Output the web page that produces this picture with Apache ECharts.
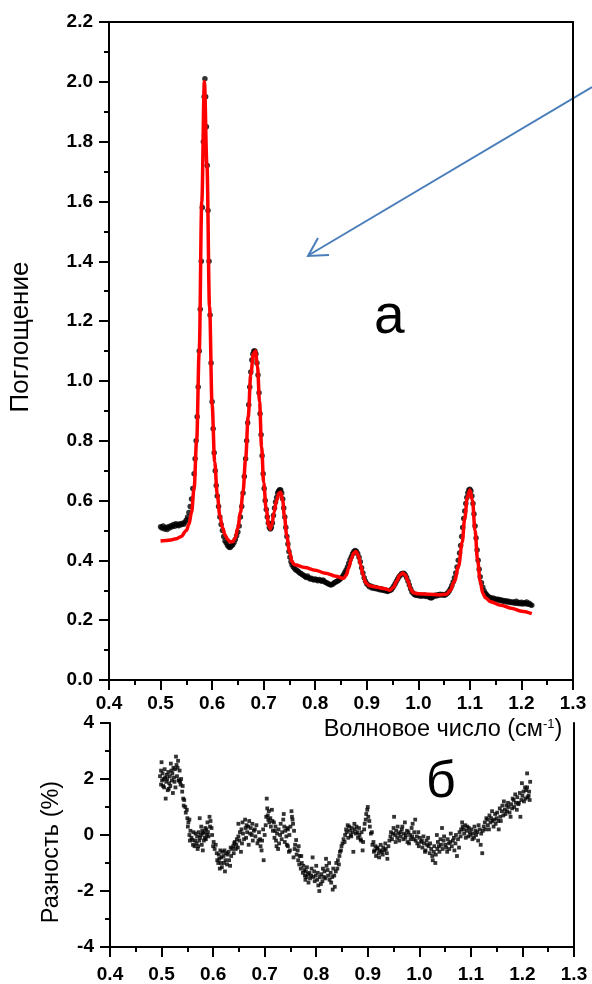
<!DOCTYPE html>
<html>
<head>
<meta charset="utf-8">
<script src="https://cdn.jsdelivr.net/npm/echarts@6/dist/echarts.min.js"></script>
<style>
html,body{margin:0;padding:0;background:#fff;}
#chart{width:592px;height:984px;}
</style>
</head>
<body>
<div id="chart"></div>
<script>
// Measured absorbance (black dots): [wavenumber, absorbance]
const absorbance = [
[0.500,0.512],[0.5025,0.508],[0.505,0.515],[0.5075,0.505],[0.510,0.510],[0.5125,0.503],[0.515,0.512],[0.5175,0.508],
[0.520,0.516],[0.5225,0.512],[0.525,0.520],[0.5275,0.514],[0.530,0.522],[0.5325,0.518],[0.535,0.516],[0.5375,0.522],
[0.540,0.519],[0.5425,0.524],[0.545,0.521],[0.5475,0.528],[0.550,0.535],[0.5525,0.545],[0.555,0.560],[0.5575,0.58],
[0.560,0.605],[0.5625,0.64],[0.565,0.69],[0.567,0.74],[0.569,0.80],[0.571,0.88],[0.573,0.98],[0.575,1.10],
[0.577,1.24],[0.579,1.40],[0.581,1.58],[0.583,1.80],[0.5845,1.95],[0.586,2.01],[0.5875,1.95],[0.589,1.85],
[0.5905,1.72],[0.592,1.57],[0.594,1.40],[0.596,1.22],[0.598,1.06],[0.600,0.93],[0.602,0.84],[0.604,0.76],
[0.606,0.70],[0.608,0.65],[0.610,0.615],[0.6125,0.58],[0.615,0.545],[0.6175,0.52],[0.620,0.50],[0.6225,0.48],
[0.625,0.465],[0.6275,0.458],[0.630,0.450],[0.6325,0.445],[0.635,0.443],[0.6375,0.448],[0.640,0.452],[0.6425,0.460],
[0.645,0.470],[0.6475,0.482],[0.650,0.495],[0.6525,0.515],[0.655,0.545],[0.6575,0.58],[0.660,0.625],[0.6625,0.68],
[0.665,0.74],[0.667,0.80],[0.669,0.86],[0.671,0.92],[0.673,0.98],[0.675,1.03],[0.677,1.07],[0.679,1.09],
[0.681,1.10],[0.683,1.10],[0.685,1.09],[0.687,1.06],[0.689,1.02],[0.691,0.96],[0.693,0.89],[0.695,0.82],
[0.697,0.75],[0.699,0.69],[0.701,0.64],[0.703,0.60],[0.705,0.57],[0.707,0.545],[0.709,0.525],[0.711,0.51],
[0.713,0.505],[0.715,0.51],[0.717,0.525],[0.719,0.55],[0.721,0.575],[0.723,0.595],[0.725,0.61],[0.727,0.625],
[0.729,0.632],[0.731,0.636],[0.733,0.635],[0.735,0.625],[0.737,0.605],[0.739,0.575],[0.741,0.545],[0.743,0.51],
[0.745,0.48],[0.747,0.455],[0.749,0.43],[0.751,0.41],[0.753,0.395],[0.755,0.385],[0.7575,0.378],[0.760,0.373],
[0.7625,0.368],[0.765,0.366],[0.7675,0.362],[0.770,0.358],[0.7725,0.356],[0.775,0.352],[0.7775,0.350],[0.780,0.346],
[0.7825,0.343],[0.785,0.348],[0.7875,0.342],[0.790,0.338],[0.7925,0.340],[0.795,0.337],[0.7975,0.334],[0.800,0.338],
[0.8025,0.335],[0.805,0.332],[0.8075,0.336],[0.810,0.333],[0.8125,0.330],[0.815,0.334],[0.8175,0.330],[0.820,0.326],
[0.8225,0.325],[0.825,0.322],[0.8275,0.320],[0.830,0.318],[0.8325,0.319],[0.835,0.322],[0.8375,0.326],[0.840,0.328],
[0.8425,0.330],[0.845,0.333],[0.8475,0.336],[0.850,0.340],[0.8525,0.345],[0.855,0.352],[0.8575,0.360],[0.860,0.368],
[0.8625,0.378],[0.865,0.390],[0.8675,0.402],[0.870,0.412],[0.8725,0.422],[0.875,0.430],[0.8775,0.433],[0.880,0.430],
[0.8825,0.422],[0.885,0.410],[0.8875,0.395],[0.890,0.375],[0.8925,0.358],[0.895,0.342],[0.8975,0.330],[0.900,0.322],
[0.9025,0.318],[0.905,0.312],[0.9075,0.314],[0.910,0.308],[0.9125,0.311],[0.915,0.306],[0.9175,0.309],[0.920,0.304],
[0.9225,0.306],[0.925,0.302],[0.9275,0.305],[0.930,0.300],[0.9325,0.303],[0.935,0.298],[0.9375,0.300],[0.940,0.296],
[0.9425,0.298],[0.945,0.300],[0.9475,0.302],[0.950,0.308],[0.9525,0.314],[0.955,0.322],[0.9575,0.330],[0.960,0.338],
[0.9625,0.345],[0.965,0.350],[0.9675,0.355],[0.970,0.357],[0.9725,0.356],[0.975,0.350],[0.9775,0.342],[0.980,0.330],
[0.9825,0.318],[0.985,0.305],[0.9875,0.295],[0.990,0.290],[0.9925,0.286],[0.995,0.283],[0.9975,0.285],[1.000,0.282],
[1.0025,0.284],[1.005,0.280],[1.0075,0.283],[1.010,0.281],[1.0125,0.284],[1.015,0.279],[1.0175,0.282],[1.020,0.278],
[1.0225,0.276],[1.025,0.274],[1.0275,0.277],[1.030,0.280],[1.0325,0.283],[1.035,0.281],[1.0375,0.285],[1.040,0.283],
[1.0425,0.287],[1.045,0.284],[1.0475,0.286],[1.050,0.283],[1.0525,0.285],[1.055,0.288],[1.0575,0.292],[1.060,0.298],
[1.0625,0.306],[1.065,0.316],[1.0675,0.328],[1.070,0.342],[1.0725,0.358],[1.075,0.378],[1.0775,0.40],[1.080,0.425],
[1.082,0.45],[1.084,0.48],[1.086,0.51],[1.088,0.54],[1.090,0.565],[1.092,0.59],[1.094,0.61],[1.096,0.625],
[1.098,0.635],[1.100,0.638],[1.102,0.632],[1.104,0.615],[1.106,0.59],[1.108,0.555],[1.110,0.515],[1.112,0.475],
[1.114,0.435],[1.116,0.40],[1.118,0.37],[1.120,0.345],[1.1225,0.325],[1.125,0.31],[1.1275,0.298],[1.130,0.290],
[1.1325,0.285],[1.135,0.280],[1.1375,0.277],[1.140,0.275],[1.1425,0.272],[1.145,0.274],[1.1475,0.270],[1.150,0.271],
[1.1525,0.268],[1.155,0.270],[1.1575,0.266],[1.160,0.268],[1.1625,0.264],[1.165,0.266],[1.1675,0.262],[1.170,0.265],
[1.1725,0.261],[1.175,0.263],[1.1775,0.259],[1.180,0.262],[1.1825,0.258],[1.185,0.261],[1.1875,0.257],[1.190,0.263],
[1.1925,0.256],[1.195,0.259],[1.1975,0.255],[1.200,0.260],[1.2025,0.254],[1.205,0.258],[1.2075,0.255],[1.210,0.261],
[1.2125,0.253],[1.215,0.257],[1.2175,0.252],[1.220,0.250]
];

// Fitted curve (red): [wavenumber, absorbance]
const fitCurve = [
[0.500,0.465],[0.510,0.466],[0.520,0.468],[0.530,0.472],[0.540,0.480],[0.550,0.500],[0.555,0.52],[0.560,0.56],
[0.565,0.64],[0.570,0.80],[0.575,1.10],[0.580,1.60],[0.585,2.00],[0.590,1.72],[0.595,1.25],[0.600,0.92],
[0.605,0.73],[0.610,0.62],[0.615,0.55],[0.620,0.51],[0.625,0.485],[0.630,0.47],[0.635,0.462],[0.640,0.462],
[0.645,0.475],[0.650,0.51],[0.655,0.56],[0.660,0.63],[0.665,0.74],[0.670,0.88],[0.675,1.02],[0.680,1.09],
[0.684,1.10],[0.688,1.05],[0.692,0.93],[0.696,0.78],[0.700,0.66],[0.705,0.57],[0.710,0.515],[0.713,0.505],
[0.716,0.52],[0.720,0.56],[0.725,0.60],[0.730,0.625],[0.733,0.628],[0.737,0.60],[0.740,0.55],[0.745,0.48],
[0.750,0.43],[0.755,0.395],[0.760,0.385],[0.780,0.376],[0.800,0.367],[0.820,0.357],[0.840,0.347],[0.855,0.340],
[0.860,0.35],[0.865,0.375],[0.870,0.405],[0.875,0.425],[0.879,0.43],[0.884,0.415],[0.888,0.385],[0.893,0.35],
[0.898,0.325],[0.905,0.315],[0.920,0.31],[0.935,0.305],[0.945,0.30],[0.952,0.31],[0.958,0.33],[0.964,0.35],
[0.970,0.358],[0.975,0.35],[0.980,0.33],[0.985,0.305],[0.990,0.292],[1.000,0.288],[1.020,0.287],[1.040,0.285],
[1.055,0.287],[1.062,0.30],[1.070,0.33],[1.078,0.38],[1.085,0.46],[1.090,0.54],[1.095,0.61],[1.100,0.635],
[1.105,0.60],[1.110,0.50],[1.115,0.40],[1.120,0.33],[1.125,0.29],[1.130,0.275],[1.140,0.262],[1.160,0.250],
[1.180,0.240],[1.200,0.230],[1.220,0.222]
];

// Residuals (%): [wavenumber, difference]
const residuals = [
[0.497,2.1],[0.499,2.3],[0.499,1.8],[0.500,2.6],[0.501,1.95],[0.502,2.2],[0.503,1.75],[0.504,2.0],[0.505,1.7],[0.506,2.35],
[0.507,2.05],[0.508,1.3],[0.509,1.9],[0.510,2.15],[0.511,2.0],[0.512,1.6],[0.513,2.25],[0.514,1.65],[0.515,1.85],[0.516,2.1],
[0.517,1.75],[0.518,2.55],[0.519,2.3],[0.520,1.95],[0.521,2.2],[0.522,1.5],[0.523,2.4],[0.524,2.05],[0.525,1.9],[0.526,2.35],
[0.527,1.7],[0.528,2.8],[0.529,2.5],[0.530,2.1],[0.531,2.4],[0.532,2.65],[0.533,1.95],[0.534,1.95],[0.535,2.3],[0.536,1.9],
[0.537,1.8],[0.538,2.0],[0.540,1.55],[0.541,1.75],[0.542,1.3],[0.543,1.05],[0.544,1.25],[0.546,1.0],[0.547,0.8],[0.549,0.9],
[0.550,0.6],[0.551,0.3],[0.552,0.45],[0.554,0.55],[0.554,0.0],[0.555,-0.2],[0.556,0.15],[0.558,-0.1],[0.560,-0.18],[0.561,-0.35],
[0.562,0.1],[0.564,-0.4],[0.565,-0.2],[0.566,0.05],[0.568,-0.3],[0.569,-0.05],[0.570,-0.5],[0.571,-0.4],[0.572,0.1],[0.573,-0.2],
[0.574,0.6],[0.575,-0.1],[0.576,0.0],[0.577,0.3],[0.578,-0.35],[0.579,0.15],[0.580,0.05],[0.580,-0.55],[0.582,-0.2],[0.583,0.1],
[0.584,-0.1],[0.585,0.25],[0.586,-0.15],[0.587,0.2],[0.588,0.0],[0.589,0.45],[0.590,0.1],[0.591,-0.05],[0.593,0.65],[0.594,0.3],
[0.595,0.5],[0.597,0.25],[0.598,0.0],[0.600,-0.4],[0.601,-0.25],[0.603,-0.5],[0.605,-0.35],[0.607,-0.65],[0.608,-0.9],[0.610,-1.0],
[0.611,-0.7],[0.612,-0.85],[0.613,-1.2],[0.614,-0.55],[0.615,-1.0],[0.616,-0.8],[0.617,-1.15],[0.618,-0.6],[0.620,-0.75],[0.621,-1.0],
[0.622,-0.55],[0.623,-1.3],[0.624,-0.9],[0.625,-0.65],[0.627,-1.05],[0.628,-0.7],[0.630,-0.6],[0.631,-0.9],[0.633,-1.1],[0.634,-0.45],
[0.635,-0.75],[0.637,-0.5],[0.639,-0.4],[0.640,-0.65],[0.641,-0.3],[0.642,-0.25],[0.644,-0.5],[0.645,-0.35],[0.646,-0.15],[0.648,-0.45],
[0.649,-0.05],[0.649,0.4],[0.651,-0.2],[0.652,0.1],[0.654,-0.6],[0.655,0.2],[0.656,-0.3],[0.657,0.45],[0.658,0.05],[0.660,-0.15],
[0.662,0.55],[0.663,0.25],[0.664,-0.1],[0.665,0.35],[0.666,0.1],[0.668,0.3],[0.669,-0.35],[0.670,0.5],[0.672,0.05],[0.673,0.25],
[0.675,0.0],[0.676,0.4],[0.677,-0.2],[0.679,0.15],[0.681,0.2],[0.682,-0.05],[0.684,0.35],[0.686,-0.3],[0.688,-0.2],[0.689,0.1],
[0.691,-0.15],[0.692,-0.4],[0.694,-0.55],[0.695,-0.2],[0.697,0.2],[0.698,-0.9],[0.700,0.0],[0.702,0.35],[0.703,0.65],[0.704,1.3],
[0.705,0.95],[0.706,0.7],[0.707,0.55],[0.708,0.85],[0.709,0.45],[0.711,0.6],[0.712,0.3],[0.714,0.9],[0.715,0.5],[0.716,0.15],
[0.718,0.45],[0.719,-0.1],[0.720,0.15],[0.721,0.3],[0.722,-0.2],[0.723,-0.4],[0.724,0.05],[0.726,-0.5],[0.727,0.2],[0.728,-0.3],
[0.730,0.0],[0.731,0.4],[0.733,-0.15],[0.734,0.1],[0.736,0.55],[0.737,0.75],[0.738,0.3],[0.739,-0.25],[0.740,0.15],[0.742,-0.05],
[0.743,-0.35],[0.744,0.25],[0.745,0.2],[0.745,-0.4],[0.747,-0.6],[0.748,0.0],[0.749,-0.55],[0.750,0.3],[0.752,0.85],[0.753,0.65],
[0.754,0.55],[0.755,0.4],[0.756,-0.8],[0.757,0.15],[0.758,-0.5],[0.759,-0.35],[0.761,-0.18],[0.762,-0.7],[0.764,-0.55],[0.765,-0.9],
[0.766,-0.4],[0.767,-1.05],[0.768,-0.75],[0.770,-1.2],[0.771,-0.75],[0.772,-1.0],[0.774,-1.35],[0.775,-1.1],[0.777,-1.25],[0.778,-1.45],
[0.779,-1.6],[0.780,-1.3],[0.781,-1.5],[0.782,-1.15],[0.784,-1.4],[0.785,-1.7],[0.787,-1.35],[0.788,-1.55],[0.790,-1.45],[0.791,-1.2],
[0.793,-0.8],[0.794,-1.5],[0.796,-1.3],[0.797,-1.65],[0.799,-1.45],[0.800,-1.1],[0.802,-1.6],[0.803,-1.35],[0.804,-1.8],[0.806,-2.0],
[0.807,-1.5],[0.809,-1.75],[0.810,-1.4],[0.812,-1.65],[0.813,-1.2],[0.815,-1.5],[0.816,-1.3],[0.818,-1.55],[0.819,-0.85],[0.820,-1.1],
[0.822,-1.25],[0.823,-1.45],[0.825,-1.0],[0.826,-1.6],[0.828,-1.35],[0.829,-1.7],[0.831,-1.5],[0.832,-1.95],[0.833,-1.2],[0.835,-1.45],
[0.836,-1.85],[0.838,-1.3],[0.839,-1.0],[0.841,-1.2],[0.842,-0.9],[0.844,-1.05],[0.845,-0.75],[0.846,-0.6],[0.848,-0.55],[0.849,-0.4],
[0.851,-0.3],[0.853,-0.15],[0.855,-0.25],[0.856,0.0],[0.858,0.2],[0.859,0.1],[0.861,0.35],[0.862,-0.1],[0.864,0.3],[0.865,0.15],
[0.867,0.0],[0.868,-0.05],[0.869,0.25],[0.871,0.1],[0.872,-0.6],[0.874,0.4],[0.875,0.2],[0.877,0.05],[0.878,0.3],[0.880,0.1],
[0.881,-0.1],[0.883,0.25],[0.884,0.0],[0.886,-0.15],[0.887,-0.2],[0.888,0.1],[0.890,-0.55],[0.891,-0.25],[0.893,0.2],[0.894,0.4],
[0.896,0.55],[0.897,0.75],[0.899,0.9],[0.900,1.0],[0.901,0.65],[0.903,0.5],[0.904,0.3],[0.906,0.05],[0.908,0.1],[0.909,-0.35],
[0.911,-0.25],[0.912,-0.6],[0.913,-0.55],[0.915,-0.4],[0.916,-0.75],[0.918,-0.5],[0.919,-0.45],[0.921,-0.65],[0.922,-0.8],[0.924,-0.55],
[0.925,-0.35],[0.927,-0.6],[0.929,-0.7],[0.930,-0.45],[0.932,-0.55],[0.934,-0.3],[0.935,-0.5],[0.937,-0.65],[0.938,-0.85],[0.940,-0.4],
[0.942,-0.2],[0.944,-0.05],[0.945,0.1],[0.947,-0.15],[0.949,0.05],[0.950,0.25],[0.951,0.65],[0.953,0.0],[0.954,-0.25],[0.955,0.15],
[0.957,-0.1],[0.958,0.3],[0.960,0.05],[0.961,-0.2],[0.963,0.1],[0.964,-0.05],[0.966,0.2],[0.967,0.3],[0.969,-0.15],[0.970,0.05],
[0.972,0.45],[0.973,-0.1],[0.974,0.0],[0.976,0.15],[0.977,-0.25],[0.979,0.1],[0.980,-0.3],[0.982,0.0],[0.983,-0.15],[0.985,0.25],
[0.986,-0.05],[0.987,0.4],[0.989,-0.15],[0.990,0.1],[0.992,0.55],[0.993,-0.2],[0.995,-0.05],[0.996,-0.3],[0.998,0.1],[0.999,-0.4],
[1.001,-0.1],[1.003,-0.25],[1.005,-0.2],[1.006,-0.45],[1.008,-0.05],[1.009,-0.3],[1.011,-0.6],[1.012,-0.55],[1.014,-0.2],[1.015,-0.35],
[1.017,-0.1],[1.018,-0.4],[1.020,-0.65],[1.021,-0.3],[1.023,-0.5],[1.025,-0.75],[1.026,-0.9],[1.028,-0.6],[1.029,-0.4],[1.031,-1.0],
[1.032,-0.7],[1.034,0.0],[1.035,-0.5],[1.036,-0.25],[1.038,-0.4],[1.039,-0.6],[1.041,-0.15],[1.042,-0.35],[1.044,0.25],[1.045,-0.5],
[1.047,-0.2],[1.048,-0.05],[1.050,-0.35],[1.052,-0.45],[1.054,-0.6],[1.055,-0.15],[1.057,-0.3],[1.058,-0.5],[1.060,-0.25],[1.061,0.05],
[1.063,-0.4],[1.065,-0.2],[1.067,-0.1],[1.068,-0.55],[1.070,-0.3],[1.071,0.0],[1.073,-0.75],[1.075,-0.15],[1.077,-0.45],[1.078,0.1],
[1.080,-0.05],[1.081,0.2],[1.083,0.45],[1.084,0.3],[1.086,0.2],[1.087,0.05],[1.089,0.35],[1.090,-0.1],[1.092,0.15],[1.093,0.3],
[1.095,-0.05],[1.096,0.25],[1.098,0.1],[1.099,0.0],[1.101,0.2],[1.103,-0.15],[1.104,0.05],[1.106,-0.1],[1.107,0.3],[1.109,0.15],
[1.110,0.0],[1.112,0.1],[1.114,-0.2],[1.115,0.35],[1.117,0.2],[1.119,-0.35],[1.120,0.05],[1.122,-0.65],[1.123,0.15],[1.125,0.3],
[1.127,0.45],[1.128,0.2],[1.130,0.6],[1.132,0.55],[1.133,0.35],[1.135,0.2],[1.136,0.7],[1.138,0.45],[1.139,0.6],[1.141,0.85],
[1.142,0.5],[1.144,0.3],[1.145,0.55],[1.147,0.75],[1.148,0.4],[1.150,0.6],[1.151,0.8],[1.153,0.5],[1.154,0.2],[1.156,0.95],
[1.157,0.65],[1.158,0.5],[1.160,0.85],[1.161,1.05],[1.163,0.7],[1.164,1.2],[1.166,0.9],[1.167,0.75],[1.169,1.05],[1.170,0.85],
[1.172,1.15],[1.173,1.0],[1.175,0.8],[1.177,0.65],[1.178,1.1],[1.180,0.95],[1.181,1.3],[1.183,1.25],[1.184,1.0],[1.186,1.45],
[1.187,1.15],[1.189,0.9],[1.190,1.35],[1.192,1.1],[1.193,1.15],[1.195,1.5],[1.196,0.65],[1.198,1.25],[1.199,1.85],[1.200,1.4],
[1.202,1.55],[1.203,1.2],[1.205,1.7],[1.206,1.3],[1.207,1.6],[1.209,2.2],[1.209,1.7],[1.210,1.35],[1.212,1.4],[1.213,1.55],
[1.214,1.25],[1.215,1.9]
];

const xRange = [0.4, 1.3];
const absRange = [0.0, 2.2];
const resRange = [-4, 4];

const FONT = '"Liberation Sans", Arial, sans-serif';
const axisLineStyle = {color:'#000', width:2};
function mainX(grid, margin) {
  return {
    type:'value', gridIndex:grid, min:xRange[0], max:xRange[1], interval:0.1, position:'bottom',
    axisLine:{show:true, onZero:false, lineStyle:axisLineStyle},
    axisTick:{show:true, length:10, lineStyle:{color:'#000', width:2}},
    minorTick:{show:true, splitNumber:2, length:5, lineStyle:{color:'#000', width:2}},
    axisLabel:{color:'#000', fontFamily:FONT, fontWeight:'bold', fontSize:19, margin:margin,
      formatter:v => v.toFixed(1)},
    splitLine:{show:false}
  };
}
function frameAxis(grid, pos, range) {
  return {
    type:'value', gridIndex:grid, position:pos, min:range[0], max:range[1],
    axisLine:{show:true, onZero:false, lineStyle:axisLineStyle},
    axisTick:{show:false}, axisLabel:{show:false}, splitLine:{show:false}
  };
}

const chart = echarts.init(document.getElementById('chart'), null, {renderer:'canvas'});
chart.setOption({
  animation:false,
  backgroundColor:'#fff',
  grid:[
    {left:107, right:19, top:22, height:658},
    {left:110, right:18, top:723, height:224}
  ],
  xAxis:[
    Object.assign(mainX(0, 14), {
      name:'{a|Волновое число (см}{s|-1}{a|)}', nameLocation:'middle', nameGap:35,
      nameTextStyle:{padding:[0,0,0,204], rich:{
        a:{fontFamily:FONT, fontSize:23.5, color:'#000'},
        s:{fontFamily:FONT, fontSize:13, color:'#000', verticalAlign:'top', padding:[0,0,11,0]}
      }}
    }),
    mainX(1, 18),
    frameAxis(0, 'top', xRange)
  ],
  yAxis:[
    {
      type:'value', gridIndex:0, min:absRange[0], max:absRange[1], interval:0.2,
      axisLine:{show:true, onZero:false, lineStyle:axisLineStyle},
      axisTick:{show:true, length:10, lineStyle:{color:'#000', width:2}},
      minorTick:{show:true, splitNumber:2, length:5, lineStyle:{color:'#000', width:2}},
      axisLabel:{color:'#000', fontFamily:FONT, fontWeight:'bold', fontSize:19, margin:16,
        formatter:v => v.toFixed(1)},
      splitLine:{show:false},
      name:'Поглощение', nameLocation:'middle', nameRotate:90, nameGap:75,
      nameTextStyle:{fontFamily:FONT, fontSize:26, color:'#000', padding:[0,0,0,28]}
    },
    {
      type:'value', gridIndex:1, min:resRange[0], max:resRange[1], interval:2,
      axisLine:{show:true, onZero:false, lineStyle:axisLineStyle},
      axisTick:{show:true, length:10, lineStyle:{color:'#000', width:2}},
      minorTick:{show:true, splitNumber:2, length:5, lineStyle:{color:'#000', width:2}},
      axisLabel:{color:'#000', fontFamily:FONT, fontWeight:'bold', fontSize:19, margin:16},
      splitLine:{show:false},
      name:'Разность (%)', nameLocation:'middle', nameRotate:90, nameGap:46,
      nameTextStyle:{fontFamily:FONT, fontSize:23.5, color:'#000', padding:[0,34,0,0]}
    },
    frameAxis(0, 'right', absRange),
    frameAxis(1, 'right', resRange)
  ],
  series:[
    {
      type:'scatter', xAxisIndex:0, yAxisIndex:0, data:absorbance,
      symbol:'circle', symbolSize:5.5, itemStyle:{color:'#000'}, z:2, silent:true
    },
    {
      type:'line', xAxisIndex:0, yAxisIndex:0, data:fitCurve,
      showSymbol:false, smooth:0.35, smoothMonotone:'x',
      lineStyle:{color:'#ff0000', width:3.5}, z:3, silent:true
    },
    {
      type:'scatter', xAxisIndex:1, yAxisIndex:1, data:residuals,
      symbol:'rect', symbolSize:3.8, itemStyle:{color:'#000'}, z:2, silent:true
    }
  ],
  graphic:[
    {type:'text', left:374, top:290, style:{text:'а', fontFamily:FONT, fontSize:55, fill:'#000'}},
    {type:'text', left:426, top:757, style:{text:'б', fontFamily:FONT, fontSize:52, fill:'#000'}},
    {type:'line', shape:{x1:592, y1:87, x2:309, y2:255}, style:{stroke:'#4a7ebb', lineWidth:2}},
    {type:'polyline', shape:{points:[[318,238],[308,256],[329,255]]}, style:{stroke:'#4a7ebb', lineWidth:2, fill:null}}
  ]
});
</script>
</body>
</html>
